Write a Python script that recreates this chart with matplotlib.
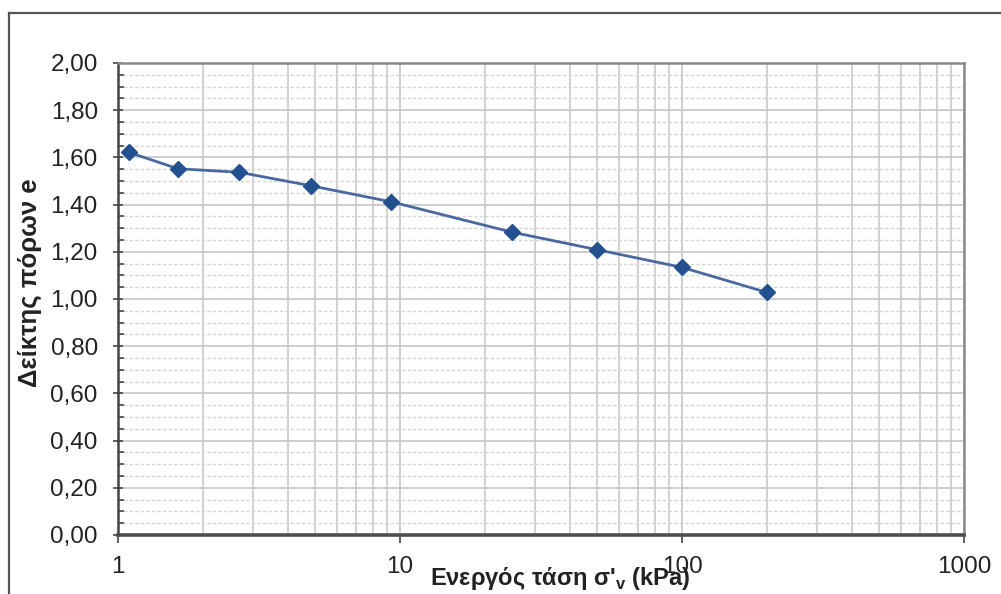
import matplotlib
matplotlib.use("Agg")
import matplotlib.pyplot as plt
from matplotlib.lines import Line2D
from matplotlib.ticker import FixedLocator, FuncFormatter, LogLocator, NullFormatter

plt.rcParams["font.family"] = ["Liberation Sans", "DejaVu Sans"]
plt.rcParams["mathtext.fontset"] = "custom"
plt.rcParams["mathtext.rm"] = "Liberation Sans"

# ── data: effective stress vs void ratio ─────────────────────────────
stress_kpa = [1.09, 1.63, 2.69, 4.82, 9.3, 25, 50, 100, 200]
void_ratio = [1.622, 1.552, 1.537, 1.480, 1.412, 1.283, 1.209, 1.134, 1.028]

x_ticks = [1, 10, 100, 1000]
y_major = [0.0, 0.2, 0.4, 0.6, 0.8, 1.0, 1.2, 1.4, 1.6, 1.8, 2.0]

xlabel = "Ενεργός τάση σ'$_\\mathregular{v}$ (kPa)"
ylabel = "Δείκτης πόρων e"

LINE_C = "#4a68a0"
MARK_C = "#23508f"
GRID_C = "#c9c9c9"

fig = plt.figure(figsize=(10.01, 5.94), dpi=100)
ax = fig.add_axes([118 / 1001, 1 - 535 / 594, 846 / 1001, 472 / 594])

# outer frame (top + left edges only are inside the canvas)
fig.add_artist(Line2D([9 / 1001, 1.0], [1 - 13 / 594] * 2,
                      transform=fig.transFigure, color="#555555", lw=1.6))
fig.add_artist(Line2D([9 / 1001] * 2, [0, 1 - 13 / 594],
                      transform=fig.transFigure, color="#555555", lw=1.6))

ax.plot(stress_kpa, void_ratio, color=LINE_C, lw=2.0, zorder=3,
        marker="D", markersize=8, markerfacecolor=MARK_C,
        markeredgecolor=MARK_C, clip_on=False)

ax.set_xscale("log")
ax.set_xlim(1, 1000)
ax.set_ylim(0, 2.0)

ax.xaxis.set_major_locator(FixedLocator(x_ticks))
ax.xaxis.set_minor_locator(LogLocator(base=10, subs=range(2, 10)))
ax.xaxis.set_minor_formatter(NullFormatter())
ax.xaxis.set_major_formatter(FuncFormatter(lambda v, _: f"{v:g}"))

ax.yaxis.set_major_locator(FixedLocator(y_major))
ax.yaxis.set_minor_locator(FixedLocator([i * 0.05 for i in range(41)]))
ax.yaxis.set_major_formatter(FuncFormatter(lambda v, _: f"{v:.2f}".replace(".", ",")))

ax.grid(True, which="major", axis="both", color=GRID_C, lw=1.3, zorder=0)
ax.grid(True, which="minor", axis="x", color=GRID_C, lw=1.2, zorder=0)
ax.grid(True, which="minor", axis="y", color="#d4d4d4", lw=1.0,
        linestyle=(0, (2.5, 1.5)), zorder=0)
ax.set_axisbelow(True)

ax.tick_params(axis="x", which="major", direction="out", length=6, width=1.2,
               pad=9, labelsize=17.5, color="#444444", labelcolor="#222222")
ax.tick_params(axis="x", which="minor", length=0)
ax.tick_params(axis="y", which="major", direction="inout", length=7, width=1.2,
               pad=11, labelsize=17.5, color="#444444", labelcolor="#222222")
ax.tick_params(axis="y", which="minor", direction="in", length=4, width=1.2,
               color="#444444")

for side, col, w in [("bottom", "#4d4d4d", 2.6), ("left", "#444444", 1.8),
                     ("top", "#8a8a8a", 1.8), ("right", "#8a8a8a", 1.8)]:
    ax.spines[side].set_color(col)
    ax.spines[side].set_linewidth(w)

ax.set_xlabel(xlabel, fontsize=17, fontweight="bold", color="#222222")
ax.xaxis.set_label_coords((560 - 118) / 846, -(579 - 535) / 472)
ax.xaxis.label.set_va("center")

ax.set_ylabel(ylabel, fontsize=18.5, fontweight="bold", color="#222222")
ax.yaxis.set_label_coords(-(118 - 30) / 846, (535 - 283) / 472)
ax.yaxis.label.set_va("center")

fig.savefig("out.png", dpi=100)
plt.close(fig)
